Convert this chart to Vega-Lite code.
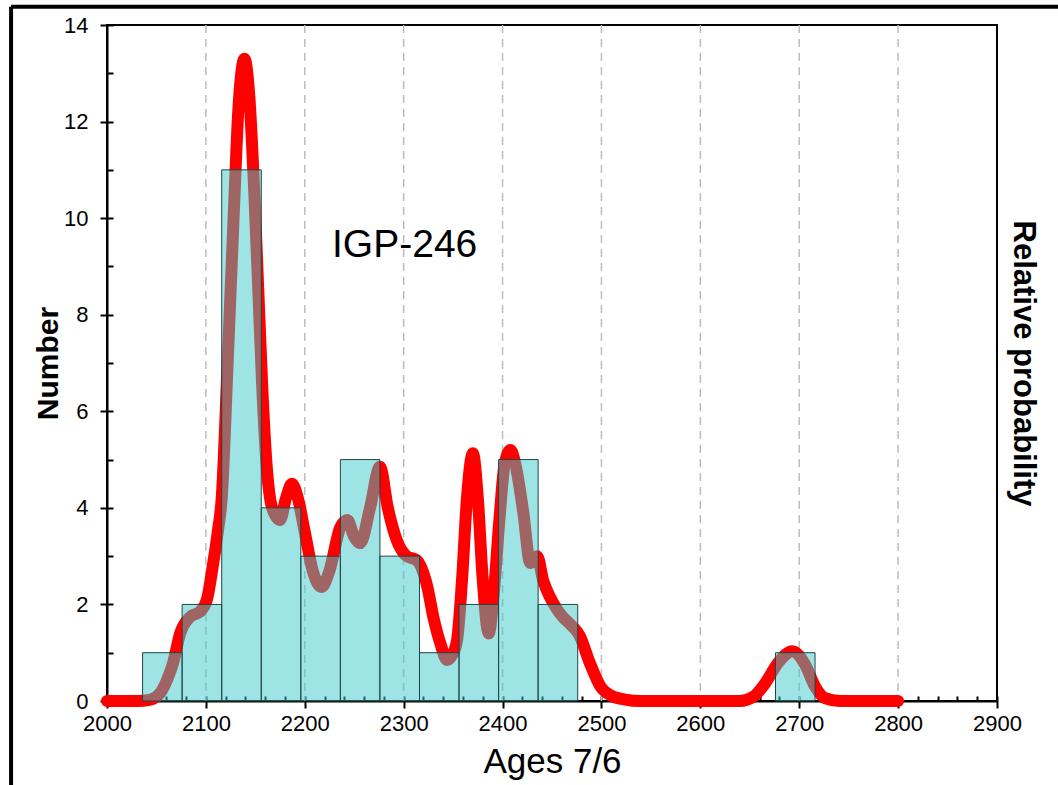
{
  "$schema": "https://vega.github.io/schema/vega-lite/v6.json",
  "width": 890,
  "height": 676,
  "autosize": {"type": "none"},
  "padding": {"left": 107, "top": 25, "right": 61, "bottom": 84},
  "background": "white",
  "config": {
    "view": {"stroke": "black", "strokeWidth": 2},
    "font": "Liberation Sans",
    "axis": {"labelColor": "black", "titleColor": "black", "domainColor": "black", "tickColor": "black", "labelFont": "Liberation Sans", "titleFont": "Liberation Sans", "zindex": 1}
  },
  "datasets": {
    "bins": [
      {"start": 2036, "end": 2076, "count": 1},
      {"start": 2076, "end": 2116, "count": 2},
      {"start": 2116, "end": 2156, "count": 11},
      {"start": 2156, "end": 2196, "count": 4},
      {"start": 2196, "end": 2236, "count": 3},
      {"start": 2236, "end": 2276, "count": 5},
      {"start": 2276, "end": 2316, "count": 3},
      {"start": 2316, "end": 2356, "count": 1},
      {"start": 2356, "end": 2396, "count": 2},
      {"start": 2396, "end": 2436, "count": 5},
      {"start": 2436, "end": 2476, "count": 2},
      {"start": 2676, "end": 2716, "count": 1}
    ],
    "curve": [
      {"age": 2000, "p": 0}, {"age": 2030, "p": 0}, {"age": 2044, "p": 0.03}, {"age": 2054, "p": 0.17},
      {"age": 2061, "p": 0.45}, {"age": 2067, "p": 0.8}, {"age": 2074, "p": 1.4}, {"age": 2084, "p": 1.74},
      {"age": 2094, "p": 1.85}, {"age": 2101, "p": 2.1}, {"age": 2107, "p": 2.8}, {"age": 2112, "p": 3.5},
      {"age": 2116, "p": 4.2}, {"age": 2122, "p": 7.0}, {"age": 2128, "p": 10.0}, {"age": 2133, "p": 12.3},
      {"age": 2139, "p": 13.3}, {"age": 2144, "p": 12.5}, {"age": 2149, "p": 10.5}, {"age": 2153, "p": 8.5},
      {"age": 2157, "p": 6.5}, {"age": 2161, "p": 5.0}, {"age": 2167, "p": 4.0}, {"age": 2175, "p": 3.75},
      {"age": 2181, "p": 4.2}, {"age": 2187, "p": 4.5}, {"age": 2193, "p": 4.2}, {"age": 2200, "p": 3.5},
      {"age": 2208, "p": 2.7}, {"age": 2217, "p": 2.36}, {"age": 2225, "p": 2.7}, {"age": 2236, "p": 3.6},
      {"age": 2243, "p": 3.75}, {"age": 2250, "p": 3.4}, {"age": 2256, "p": 3.27}, {"age": 2266, "p": 4.0},
      {"age": 2276, "p": 4.85}, {"age": 2284, "p": 4.0}, {"age": 2293, "p": 3.33}, {"age": 2303, "p": 3.0},
      {"age": 2313, "p": 2.92}, {"age": 2324, "p": 2.36}, {"age": 2330, "p": 1.74}, {"age": 2337, "p": 1.2},
      {"age": 2344, "p": 0.85}, {"age": 2349, "p": 0.95}, {"age": 2354, "p": 1.26}, {"age": 2359, "p": 2.5},
      {"age": 2364, "p": 4.2}, {"age": 2370, "p": 5.13}, {"age": 2375, "p": 4.2}, {"age": 2380, "p": 2.5},
      {"age": 2386, "p": 1.4}, {"age": 2391, "p": 2.2}, {"age": 2397, "p": 3.8}, {"age": 2402, "p": 4.9},
      {"age": 2408, "p": 5.2}, {"age": 2413, "p": 4.9}, {"age": 2421, "p": 3.9}, {"age": 2428, "p": 2.86},
      {"age": 2435, "p": 3.0}, {"age": 2441, "p": 2.5}, {"age": 2448, "p": 2.15}, {"age": 2455, "p": 1.9},
      {"age": 2461, "p": 1.74}, {"age": 2468, "p": 1.6}, {"age": 2478, "p": 1.35}, {"age": 2488, "p": 0.8},
      {"age": 2499, "p": 0.3}, {"age": 2509, "p": 0.12}, {"age": 2524, "p": 0.03}, {"age": 2539, "p": 0},
      {"age": 2640, "p": 0}, {"age": 2653, "p": 0.08}, {"age": 2665, "p": 0.35}, {"age": 2679, "p": 0.8},
      {"age": 2693, "p": 1.03}, {"age": 2706, "p": 0.75}, {"age": 2716, "p": 0.3}, {"age": 2726, "p": 0.06},
      {"age": 2741, "p": 0}, {"age": 2800, "p": 0}
    ],
    "grid": [
      {"g": 2100}, {"g": 2200}, {"g": 2300}, {"g": 2400}, {"g": 2500}, {"g": 2600}, {"g": 2700}, {"g": 2800}
    ],
    "frame": [
      {"x0": 1903, "x1": 2990, "y0": -3, "y1": 14.38}
    ]
  },
  "resolve": {"axis": {"x": "independent", "y": "independent"}},
  "layer": [
    {
      "data": {"name": "frame"},
      "mark": {"type": "rule", "color": "black", "strokeWidth": 4, "clip": false},
      "encoding": {
        "x": {"field": "x0", "type": "quantitative", "scale": {"domain": [2000, 2900], "nice": false, "zero": false}, "axis": null},
        "x2": {"field": "x1"},
        "y": {"field": "y1", "type": "quantitative", "scale": {"domain": [0, 14], "nice": false}, "axis": null}
      }
    },
    {
      "data": {"name": "frame"},
      "mark": {"type": "rule", "color": "black", "strokeWidth": 4, "clip": false},
      "encoding": {
        "x": {"field": "x0", "type": "quantitative", "scale": {"domain": [2000, 2900], "nice": false, "zero": false}, "axis": null},
        "y": {"field": "y1", "type": "quantitative", "scale": {"domain": [0, 14], "nice": false}, "axis": null},
        "y2": {"field": "y0"}
      }
    },
    {
      "data": {"name": "grid"},
      "mark": {"type": "rule", "color": "#BDBDBD", "strokeWidth": 1.5, "strokeDash": [8, 6]},
      "encoding": {
        "x": {"field": "g", "type": "quantitative", "scale": {"domain": [2000, 2900], "nice": false, "zero": false}, "axis": null}
      }
    },
    {
      "data": {"name": "curve"},
      "mark": {"type": "line", "color": "#FF0000", "strokeWidth": 12, "strokeCap": "round", "strokeJoin": "round", "interpolate": "monotone", "clip": false},
      "encoding": {
        "x": {
          "field": "age", "type": "quantitative",
          "scale": {"domain": [2000, 2900], "nice": false, "zero": false},
          "axis": {"orient": "bottom", "values": [2000, 2100, 2200, 2300, 2400, 2500, 2600, 2700, 2800, 2900], "format": "d", "title": "Ages 7/6", "tickSize": 7, "tickWidth": 2, "domainWidth": 2, "labelFontSize": 22, "labelPadding": 5, "titleFontSize": 35, "titleFontWeight": "normal", "titlePadding": 10, "grid": false, "labelFlush": false}
        },
        "y": {
          "field": "p", "type": "quantitative",
          "scale": {"domain": [0, 14], "nice": false},
          "axis": {"orient": "right", "title": "Relative probability", "labels": false, "ticks": false, "domain": false, "grid": false, "titleFontSize": 31, "titleFontWeight": "bold", "titlePadding": 9}
        }
      }
    },
    {
      "data": {"name": "bins"},
      "mark": {"type": "bar", "fill": "#3FCACA", "fillOpacity": 0.5, "stroke": "#1F4545", "strokeWidth": 1},
      "encoding": {
        "x": {"field": "start", "type": "quantitative", "scale": {"domain": [2000, 2900], "nice": false, "zero": false}, "axis": null},
        "x2": {"field": "end"},
        "y": {
          "field": "count", "type": "quantitative",
          "scale": {"domain": [0, 14], "nice": false},
          "axis": {"orient": "left", "values": [0, 2, 4, 6, 8, 10, 12, 14], "title": "Number", "tickSize": 7, "tickWidth": 2, "domainWidth": 2, "labelFontSize": 22, "labelPadding": 12, "titleFontSize": 30, "titleFontWeight": "bold", "titlePadding": 0, "grid": false, "labelFlush": false}
        },
        "y2": {"datum": 0}
      }
    },
    {
      "data": {"name": "bins"},
      "mark": {"type": "point", "opacity": 0},
      "encoding": {
        "x": {
          "field": "start", "type": "quantitative",
          "scale": {"domain": [2000, 2900], "nice": false, "zero": false},
          "axis": {"orient": "bottom", "values": [2000, 2020, 2040, 2060, 2080, 2100, 2120, 2140, 2160, 2180, 2200, 2220, 2240, 2260, 2280, 2300, 2320, 2340, 2360, 2380, 2400, 2420, 2440, 2460, 2480, 2500, 2520, 2540, 2560, 2580, 2600, 2620, 2640, 2660, 2680, 2700, 2720, 2740, 2760, 2780, 2800, 2820, 2840, 2860, 2880, 2900], "labels": false, "domain": false, "title": null, "tickSize": -5, "tickWidth": 2, "grid": false}
        },
        "y": {
          "field": "count", "type": "quantitative",
          "scale": {"domain": [0, 14], "nice": false},
          "axis": {"orient": "left", "values": [0, 1, 2, 3, 4, 5, 6, 7, 8, 9, 10, 11, 12, 13, 14], "labels": false, "domain": false, "title": null, "tickSize": -6, "tickWidth": 2, "grid": false}
        }
      }
    },
    {
      "data": {"values": [{"label": "IGP-246"}]},
      "mark": {"type": "text", "fontSize": 39, "font": "Liberation Sans", "color": "black", "align": "center", "baseline": "middle"},
      "encoding": {
        "x": {"datum": 2301, "scale": {"domain": [2000, 2900], "nice": false, "zero": false}, "axis": null},
        "y": {"datum": 9.44, "scale": {"domain": [0, 14], "nice": false}, "axis": null},
        "text": {"field": "label"}
      }
    }
  ]
}
